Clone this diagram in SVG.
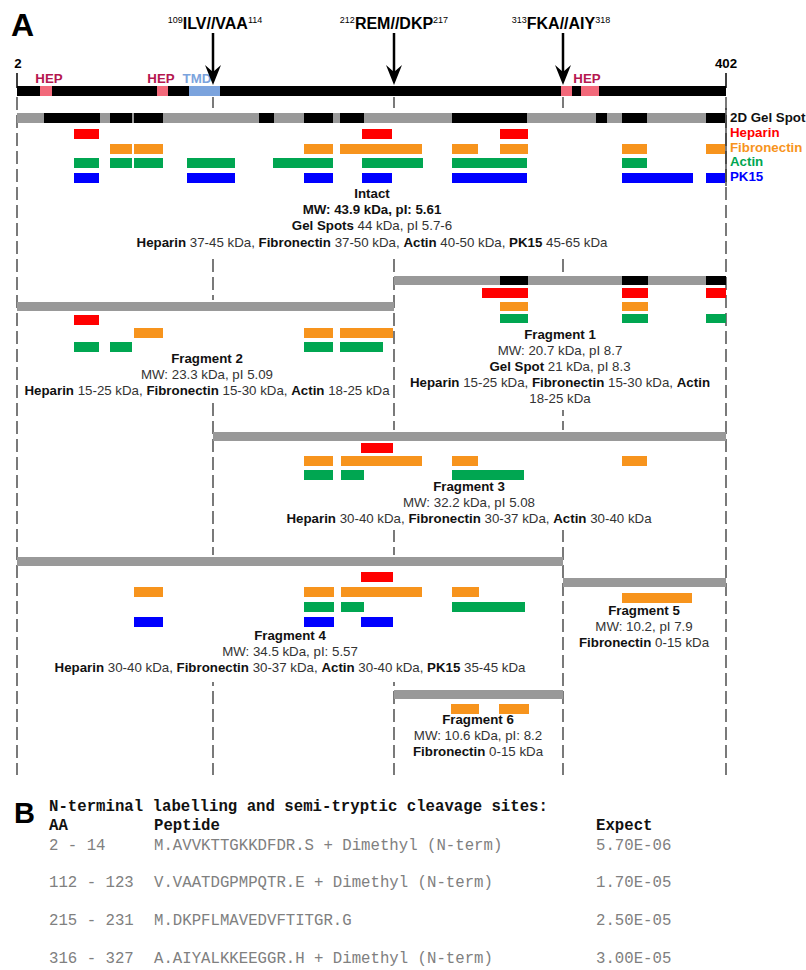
<svg xmlns="http://www.w3.org/2000/svg" width="806" height="970" viewBox="0 0 806 970">
<style>
text{font-family:"Liberation Sans",Arial,sans-serif;}
.t{font-size:13.3px;fill:#333;text-anchor:middle;}
.b{font-weight:bold;fill:#111;}
.lg{font-size:13.3px;font-weight:bold;}
.r{fill:#ff0000;}.o{fill:#f7941d;}.g{fill:#00a651;}.u{fill:#0000ff;}
.gy{fill:#999999;}.k{fill:#000;}
.hep{fill:#f2697a;}
.dl{stroke:#333;stroke-width:1.3;stroke-dasharray:13,5;fill:none;}
.box{fill:#fff;}
.m{font-family:"Liberation Mono","Courier New",monospace;font-size:15.7px;}
.mh{font-weight:bold;fill:#111;}
.mr{fill:#808080;}
</style>
<rect width="806" height="970" fill="#fff"/>
<g id="connectors">
<line class="dl" x1="17" y1="97" x2="17" y2="775"/>
<line class="dl" x1="213" y1="97" x2="213" y2="775"/>
<line class="dl" x1="394" y1="97" x2="394" y2="775"/>
<line class="dl" x1="563" y1="97" x2="563" y2="775"/>
<line class="dl" x1="726" y1="97" x2="726" y2="775"/>
</g>
<text x="11" y="36" style="font-size:32px;font-weight:bold">A</text>
<g id="protein">
<line x1="17" y1="73" x2="17" y2="88" stroke="#000" stroke-width="1.5"/>
<line x1="726" y1="73" x2="726" y2="88" stroke="#000" stroke-width="1.5"/>
<text x="18" y="68" class="lg" text-anchor="middle">2</text>
<text x="726" y="68" class="lg" text-anchor="middle">402</text>
<rect x="17" y="86" width="709" height="10" class="k"/>
<rect x="40" y="86" width="12" height="10" class="hep"/>
<rect x="157" y="86" width="11" height="10" class="hep"/>
<rect x="189" y="86" width="31" height="10" fill="#7ba3dd"/>
<rect x="561" y="86" width="11" height="10" class="hep"/>
<rect x="581" y="86" width="18" height="10" class="hep"/>
<text x="49" y="83" class="lg" text-anchor="middle" fill="#b5174f">HEP</text>
<text x="161" y="83" class="lg" text-anchor="middle" fill="#b5174f">HEP</text>
<text x="197" y="83" class="lg" text-anchor="middle" fill="#7ba3dd">TMD</text>
<text x="587" y="83" class="lg" text-anchor="middle" fill="#b5174f">HEP</text>
</g>
<g id="arrows">
<line x1="213" y1="33" x2="213" y2="72" stroke="#000" stroke-width="2.5"/>
<path d="M213,85 L205,65 L213,72 L221,65 Z" fill="#000"/>
<line x1="394" y1="33" x2="394" y2="72" stroke="#000" stroke-width="2.5"/>
<path d="M394,85 L386,65 L394,72 L402,65 Z" fill="#000"/>
<line x1="563" y1="33" x2="563" y2="72" stroke="#000" stroke-width="2.5"/>
<path d="M563,85 L555,65 L563,72 L571,65 Z" fill="#000"/>
<text x="215" y="29" text-anchor="middle" style="font-weight:bold;font-size:16px"><tspan font-size="9" font-weight="normal" dy="-6">109</tspan><tspan dy="6">ILV//VAA</tspan><tspan font-size="9" font-weight="normal" dy="-6">114</tspan></text>
<text x="394" y="29" text-anchor="middle" style="font-weight:bold;font-size:16px"><tspan font-size="9" font-weight="normal" dy="-6">212</tspan><tspan dy="6">REM//DKP</tspan><tspan font-size="9" font-weight="normal" dy="-6">217</tspan></text>
<text x="561" y="29" text-anchor="middle" style="font-weight:bold;font-size:16px"><tspan font-size="9" font-weight="normal" dy="-6">313</tspan><tspan dy="6">FKA//AIY</tspan><tspan font-size="9" font-weight="normal" dy="-6">318</tspan></text>
</g>
<g id="intact">
<rect class="box" x="19" y="108" width="705" height="146"/>
<rect class="gy" x="17" y="113" width="709" height="10"/>
<rect class="k" x="44" y="113" width="56" height="10"/>
<rect class="k" x="110" y="113" width="22" height="10"/>
<rect class="k" x="134" y="113" width="29" height="10"/>
<rect class="k" x="259" y="113" width="15" height="10"/>
<rect class="k" x="304" y="113" width="29" height="10"/>
<rect class="k" x="340" y="113" width="24" height="10"/>
<rect class="k" x="452" y="113" width="75" height="10"/>
<rect class="k" x="596" y="113" width="11" height="10"/>
<rect class="k" x="622" y="113" width="25" height="10"/>
<rect class="k" x="706" y="113" width="19" height="10"/>
<rect class="r" x="74" y="129" width="25" height="10"/>
<rect class="r" x="362" y="129" width="30" height="10"/>
<rect class="r" x="500" y="129" width="28" height="10"/>
<rect class="o" x="110" y="144" width="22" height="10"/>
<rect class="o" x="134" y="144" width="29" height="10"/>
<rect class="o" x="304" y="144" width="29" height="10"/>
<rect class="o" x="340" y="144" width="82" height="10"/>
<rect class="o" x="452" y="144" width="26" height="10"/>
<rect class="o" x="500" y="144" width="28" height="10"/>
<rect class="o" x="622" y="144" width="25" height="10"/>
<rect class="o" x="706" y="144" width="19" height="10"/>
<rect class="g" x="74" y="158" width="25" height="10"/>
<rect class="g" x="110" y="158" width="22" height="10"/>
<rect class="g" x="134" y="158" width="29" height="10"/>
<rect class="g" x="187" y="158" width="48" height="10"/>
<rect class="g" x="273" y="158" width="60" height="10"/>
<rect class="g" x="362" y="158" width="61" height="10"/>
<rect class="g" x="452" y="158" width="75" height="10"/>
<rect class="g" x="622" y="158" width="25" height="10"/>
<rect class="u" x="74" y="173" width="25" height="10"/>
<rect class="u" x="187" y="173" width="48" height="10"/>
<rect class="u" x="304" y="173" width="29" height="10"/>
<rect class="u" x="362" y="173" width="30" height="10"/>
<rect class="u" x="452" y="173" width="75" height="10"/>
<rect class="u" x="622" y="173" width="71" height="10"/>
<rect class="u" x="706" y="173" width="19" height="10"/>
<text class="t b" x="372" y="198">Intact</text>
<text class="t b" x="372" y="214">MW: 43.9 kDa, pI: 5.61</text>
<text class="t" x="372" y="230"><tspan class="b">Gel Spots</tspan> 44 kDa, pI 5.7-6</text>
<text class="t" x="372" y="247"><tspan class="b">Heparin</tspan> 37-45 kDa, <tspan class="b">Fibronectin</tspan> 37-50 kDa, <tspan class="b">Actin</tspan> 40-50 kDa, <tspan class="b">PK15</tspan> 45-65 kDa</text>
</g>
<g id="legend">
<line x1="726" y1="108" x2="726" y2="186" stroke="#333" stroke-width="1.3"/>
<text class="lg" x="730" y="122" fill="#111">2D Gel Spot</text>
<text class="lg" x="730" y="137" fill="#ff0000">Heparin</text>
<text class="lg" x="730" y="152" fill="#f7941d">Fibronectin</text>
<text class="lg" x="730" y="166" fill="#00a651">Actin</text>
<text class="lg" x="730" y="181" fill="#0000ff">PK15</text>
</g>
<g id="fragment1">
<rect class="box" x="396" y="274" width="328" height="136"/>
<rect class="gy" x="394" y="276" width="332" height="9"/>
<rect class="k" x="500" y="276" width="28" height="9"/>
<rect class="k" x="622" y="276" width="26" height="9"/>
<rect class="k" x="706" y="276" width="20" height="9"/>
<rect class="r" x="482" y="288" width="46" height="10"/>
<rect class="r" x="622" y="288" width="26" height="10"/>
<rect class="r" x="706" y="288" width="20" height="10"/>
<rect class="o" x="500" y="302" width="28" height="9"/>
<rect class="o" x="622" y="302" width="26" height="9"/>
<rect class="g" x="500" y="314" width="28" height="9"/>
<rect class="g" x="622" y="314" width="26" height="9"/>
<rect class="g" x="706" y="314" width="20" height="9"/>
<text class="t b" x="560" y="339">Fragment 1</text>
<text class="t" x="560" y="355">MW: 20.7 kDa, pI 8.7</text>
<text class="t" x="560" y="371"><tspan class="b">Gel Spot</tspan> 21 kDa, pI 8.3</text>
<text class="t" x="560" y="387"><tspan class="b">Heparin</tspan> 15-25 kDa, <tspan class="b">Fibronectin</tspan> 15-30 kDa, <tspan class="b">Actin</tspan></text>
<text class="t" x="560" y="403">18-25 kDa</text>
</g>
<g id="fragment2">
<rect class="box" x="19" y="300" width="373" height="100"/>
<rect class="gy" x="17" y="302" width="377" height="9"/>
<rect class="r" x="74" y="315" width="25" height="10"/>
<rect class="o" x="134" y="328" width="29" height="10"/>
<rect class="o" x="304" y="328" width="29" height="10"/>
<rect class="o" x="340" y="328" width="53" height="10"/>
<rect class="g" x="74" y="342" width="25" height="10"/>
<rect class="g" x="110" y="342" width="22" height="10"/>
<rect class="g" x="304" y="342" width="29" height="10"/>
<rect class="g" x="340" y="342" width="43" height="10"/>
<text class="t b" x="207" y="363">Fragment 2</text>
<text class="t" x="207" y="379">MW: 23.3 kDa, pI 5.09</text>
<text class="t" x="207" y="395"><tspan class="b">Heparin</tspan> 15-25 kDa, <tspan class="b">Fibronectin</tspan> 15-30 kDa, <tspan class="b">Actin</tspan> 18-25 kDa</text>
</g>
<g id="fragment3">
<rect class="box" x="215" y="430" width="509" height="100"/>
<rect class="gy" x="213" y="432" width="513" height="9"/>
<rect class="r" x="361" y="443" width="32" height="10"/>
<rect class="o" x="304" y="456" width="29" height="10"/>
<rect class="o" x="341" y="456" width="81" height="10"/>
<rect class="o" x="452" y="456" width="26" height="10"/>
<rect class="o" x="622" y="456" width="25" height="10"/>
<rect class="g" x="304" y="470" width="29" height="10"/>
<rect class="g" x="341" y="470" width="23" height="10"/>
<rect class="g" x="452" y="470" width="72" height="10"/>
<text class="t b" x="469" y="491">Fragment 3</text>
<text class="t" x="469" y="507">MW: 32.2 kDa, pI 5.08</text>
<text class="t" x="469" y="523"><tspan class="b">Heparin</tspan> 30-40 kDa, <tspan class="b">Fibronectin</tspan> 30-37 kDa, <tspan class="b">Actin</tspan> 30-40 kDa</text>
</g>
<g id="fragment4">
<rect class="box" x="19" y="555" width="542" height="127"/>
<rect class="gy" x="17" y="557" width="546" height="9"/>
<rect class="r" x="361" y="572" width="32" height="10"/>
<rect class="o" x="134" y="587" width="29" height="10"/>
<rect class="o" x="304" y="587" width="30" height="10"/>
<rect class="o" x="341" y="587" width="81" height="10"/>
<rect class="o" x="452" y="587" width="27" height="10"/>
<rect class="g" x="304" y="602" width="30" height="10"/>
<rect class="g" x="341" y="602" width="23" height="10"/>
<rect class="g" x="452" y="602" width="73" height="10"/>
<rect class="u" x="134" y="617" width="29" height="10"/>
<rect class="u" x="304" y="617" width="30" height="10"/>
<rect class="u" x="361" y="617" width="32" height="10"/>
<text class="t b" x="290" y="640">Fragment 4</text>
<text class="t" x="290" y="656">MW: 34.5 kDa, pI: 5.57</text>
<text class="t" x="290" y="672"><tspan class="b">Heparin</tspan> 30-40 kDa, <tspan class="b">Fibronectin</tspan> 30-37 kDa, <tspan class="b">Actin</tspan> 30-40 kDa, <tspan class="b">PK15</tspan> 35-45 kDa</text>
</g>
<g id="fragment5">
<rect class="box" x="565" y="576" width="159" height="79"/>
<rect class="gy" x="563" y="578" width="163" height="9"/>
<rect class="o" x="622" y="593" width="70" height="10"/>
<text class="t b" x="644" y="615">Fragment 5</text>
<text class="t" x="644" y="631">MW: 10.2, pI 7.9</text>
<text class="t" x="644" y="647"><tspan class="b">Fibronectin</tspan> 0-15 kDa</text>
</g>
<g id="fragment6">
<rect class="box" x="396" y="688" width="165" height="77"/>
<rect class="gy" x="394" y="690" width="169" height="9"/>
<rect class="o" x="451" y="704" width="28" height="10"/>
<rect class="o" x="499" y="704" width="30" height="10"/>
<text class="t b" x="478" y="724">Fragment 6</text>
<text class="t" x="478" y="740">MW: 10.6 kDa, pI: 8.2</text>
<text class="t" x="478" y="756"><tspan class="b">Fibronectin</tspan> 0-15 kDa</text>
</g>
<g id="panelB">
<text x="14" y="823" style="font-size:29px;font-weight:bold">B</text>
<text class="m mh" x="49" y="811">N-terminal labelling and semi-tryptic cleavage sites:</text>
<text class="m mh" x="49" y="830">AA</text>
<text class="m mh" x="154" y="830">Peptide</text>
<text class="m mh" x="596" y="830">Expect</text>
<text class="m mr" x="49" y="850">2 - 14</text>
<text class="m mr" x="154" y="850">M.AVVKTTGKKDFDR.S + Dimethyl (N-term)</text>
<text class="m mr" x="596" y="850">5.70E-06</text>
<text class="m mr" x="49" y="887">112 - 123</text>
<text class="m mr" x="154" y="887">V.VAATDGPMPQTR.E + Dimethyl (N-term)</text>
<text class="m mr" x="596" y="887">1.70E-05</text>
<text class="m mr" x="49" y="925">215 - 231</text>
<text class="m mr" x="154" y="925">M.DKPFLMAVEDVFTITGR.G</text>
<text class="m mr" x="596" y="925">2.50E-05</text>
<text class="m mr" x="49" y="963">316 - 327</text>
<text class="m mr" x="154" y="963">A.AIYALKKEEGGR.H + Dimethyl (N-term)</text>
<text class="m mr" x="596" y="963">3.00E-05</text>
</g>
</svg>
